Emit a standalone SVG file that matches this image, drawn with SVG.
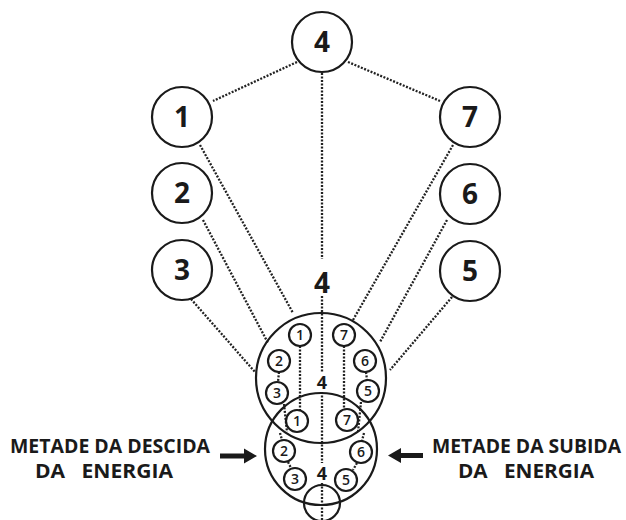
<svg xmlns="http://www.w3.org/2000/svg" width="626" height="520" viewBox="0 0 626 520">
<style>
.c{fill:#fff;stroke:#1a1a1a;stroke-width:2.2}
.o{fill:none;stroke:#1a1a1a;stroke-width:2.2}
.d{stroke:#222;stroke-width:2.3;stroke-dasharray:2 1.5;fill:none}
.big{font-family:"Open Sans","Noto Sans",sans-serif;font-weight:700;font-size:28px;fill:#1a1a1a;text-anchor:middle}
.sm{font-family:"Open Sans","Noto Sans",sans-serif;font-weight:600;font-size:14px;fill:#1a1a1a;text-anchor:middle}
.mid{font-family:"Open Sans","Noto Sans",sans-serif;font-weight:700;font-size:18px;fill:#1a1a1a;text-anchor:middle}
.lbl{font-family:"Open Sans","Noto Sans",sans-serif;font-weight:700;font-size:20px;fill:#1a1a1a}
</style>
<rect width="626" height="520" fill="#fff"/>
<g id="connectors">
<line class="d" x1="297" y1="62" x2="213" y2="101"/>
<line class="d" x1="348" y1="62" x2="440" y2="101"/>
<line class="d" x1="322" y1="73" x2="322" y2="259"/>
<line class="d" x1="322" y1="296" x2="322" y2="372"/>
<line class="d" x1="322" y1="392" x2="322" y2="463"/>
<line class="d" x1="322" y1="483" x2="322" y2="520"/>
<line class="d" x1="200" y1="145" x2="293" y2="313"/>
<line class="d" x1="203" y1="220" x2="268" y2="343"/>
<line class="d" x1="191" y1="299" x2="255" y2="372"/>
<line class="d" x1="453" y1="145" x2="353" y2="320"/>
<line class="d" x1="447" y1="220" x2="380" y2="342"/>
<line class="d" x1="452" y1="297" x2="390" y2="370"/>
<line class="d" x1="300" y1="346" x2="300" y2="410"/>
<line class="d" x1="344" y1="346" x2="344" y2="409"/>
<line class="d" x1="279" y1="372" x2="278" y2="382"/>
<line class="d" x1="366" y1="372" x2="367" y2="380"/>
<line class="d" x1="284" y1="404" x2="287" y2="432"/>
<line class="d" x1="361" y1="402" x2="358" y2="432"/>
<line class="d" x1="280" y1="433" x2="282" y2="440"/>
<line class="d" x1="364" y1="433" x2="362" y2="441"/>
<line class="d" x1="288" y1="462" x2="291" y2="468"/>
<line class="d" x1="357" y1="463" x2="353" y2="470"/>
</g>
<g id="big-circles">
<circle class="o" cx="321" cy="378" r="65"/>
<circle class="o" cx="321" cy="449" r="56"/>
<circle class="o" cx="322" cy="503" r="18"/>
</g>
<g id="n4top"><circle class="c" cx="322" cy="42" r="30"/><text class="big" x="322" y="52">4</text></g>
<g id="n1"><circle class="c" cx="182" cy="117" r="30"/><text class="big" x="182" y="127">1</text></g>
<g id="n2"><circle class="c" cx="182" cy="193" r="30"/><text class="big" x="182" y="203">2</text></g>
<g id="n3"><circle class="c" cx="182" cy="270" r="30"/><text class="big" x="182" y="280">3</text></g>
<g id="n7"><circle class="c" cx="470" cy="117" r="30"/><text class="big" x="470" y="127">7</text></g>
<g id="n6"><circle class="c" cx="470" cy="194" r="30"/><text class="big" x="470" y="204">6</text></g>
<g id="n5"><circle class="c" cx="470" cy="271" r="30"/><text class="big" x="470" y="281">5</text></g>
<g id="label4"><text class="big" x="322" y="293">4</text></g>
<g id="u1"><circle class="c" cx="300" cy="335" r="11"/><text class="sm" x="300" y="340">1</text></g>
<g id="u7"><circle class="c" cx="344" cy="335" r="11"/><text class="sm" x="344" y="340">7</text></g>
<g id="u2"><circle class="c" cx="279" cy="361" r="11"/><text class="sm" x="279" y="366">2</text></g>
<g id="u6"><circle class="c" cx="365" cy="361" r="11"/><text class="sm" x="365" y="366">6</text></g>
<g id="u3"><circle class="c" cx="277" cy="393" r="11"/><text class="sm" x="277" y="398">3</text></g>
<g id="u5"><circle class="c" cx="368" cy="391" r="11"/><text class="sm" x="368" y="396">5</text></g>
<g id="u4"><text class="mid" x="322" y="389">4</text></g>
<g id="l1"><circle class="c" cx="297" cy="421" r="11"/><text class="sm" x="297" y="426">1</text></g>
<g id="l7"><circle class="c" cx="347" cy="420" r="11"/><text class="sm" x="347" y="425">7</text></g>
<g id="l2"><circle class="c" cx="284" cy="451" r="11"/><text class="sm" x="284" y="456">2</text></g>
<g id="l6"><circle class="c" cx="361" cy="452" r="11"/><text class="sm" x="361" y="457">6</text></g>
<g id="l3"><circle class="c" cx="295" cy="479" r="11"/><text class="sm" x="295" y="484">3</text></g>
<g id="l5"><circle class="c" cx="346" cy="480" r="11"/><text class="sm" x="346" y="485">5</text></g>
<g id="l4"><text class="mid" x="322" y="480">4</text></g>
<g id="left-label">
<text class="lbl" x="10" y="453" textLength="200" lengthAdjust="spacingAndGlyphs">METADE DA DESCIDA</text>
<text class="lbl" x="35" y="478" textLength="138" lengthAdjust="spacingAndGlyphs" xml:space="preserve">DA   ENERGIA</text>
<path d="M220 453.5h24v-5l13 7.5-13 7.5v-5h-24z" fill="#1a1a1a"/>
</g>
<g id="right-label">
<text class="lbl" x="432" y="453" textLength="189" lengthAdjust="spacingAndGlyphs">METADE DA SUBIDA</text>
<text class="lbl" x="458" y="478" textLength="136" lengthAdjust="spacingAndGlyphs" xml:space="preserve">DA   ENERGIA</text>
<path d="M423 453h-22v-5l-13 7.5 13 7.5v-5h22z" fill="#1a1a1a"/>
</g>
</svg>
